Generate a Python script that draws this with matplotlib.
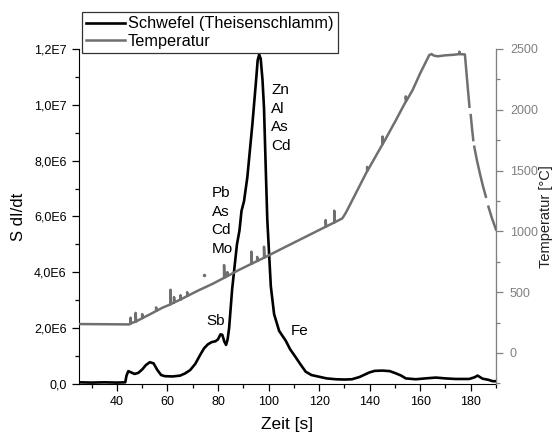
# -*- coding: utf-8 -*-

import numpy as np
import matplotlib
matplotlib.use("Agg")
import matplotlib.pyplot as plt
from matplotlib.ticker import MultipleLocator, FuncFormatter

plt.rcParams['font.family'] = ['Liberation Sans', 'DejaVu Sans']

# Schwefel signal (S dI/dt), values in 1E6
s_zeit = [25, 30, 35, 40, 43.3, 43.8, 44.5, 45.5, 47, 48.5, 50, 51.5, 53, 54.5,
          56, 57.5, 59, 62, 65, 67, 69, 71, 73, 74.5, 76, 77.5, 79, 80, 81,
          81.7, 82.5, 83.2, 83.8, 84.4, 85.6, 87.5, 88.5, 89.3, 90.3, 91.6,
          93.6, 95.0, 95.7, 96.3, 96.9, 97.6, 98.2, 98.9, 99.5, 100.2, 100.9,
          102.2, 104.2, 106.8, 108.5, 110.8, 112.5, 114.7, 117, 120, 123,
          126.6, 130, 133, 136, 139.8, 142, 145.1, 148, 150.4, 152.5, 154.3,
          158.3, 162, 166.2, 170, 174, 179.4, 181.5, 182.7, 184.7, 187, 188.7,
          190]
s_wert = [0.06, 0.05, 0.06, 0.05, 0.06, 0.3, 0.46, 0.42, 0.36, 0.4, 0.52,
          0.68, 0.78, 0.74, 0.5, 0.32, 0.28, 0.27, 0.3, 0.38, 0.5, 0.72, 1.05,
          1.28, 1.42, 1.5, 1.53, 1.6, 1.78, 1.76, 1.52, 1.4, 1.6, 2.0, 3.4,
          5.0, 5.5, 6.2, 6.55, 7.4, 9.3, 10.8, 11.6, 11.8, 11.65, 10.9, 9.9,
          7.7, 5.9, 4.7, 3.5, 2.5, 1.9, 1.55, 1.25, 0.95, 0.72, 0.44, 0.32,
          0.26, 0.2, 0.17, 0.16, 0.17, 0.25, 0.41, 0.47, 0.48, 0.46, 0.38,
          0.3, 0.2, 0.17, 0.2, 0.23, 0.2, 0.18, 0.18, 0.24, 0.3, 0.19, 0.15,
          0.1, 0.1]

# Temperatur [°C], nan = fehlende Messwerte
t_zeit = [25, 44.8, 45.4, 45.4, 45.6, 47.4, 47.4, 47.6, 50, 50, 50.2, 53,
          55.5, 55.5, 55.7, 58, 61.2, 61.2, 61.4, 62.6, 62.6, 62.8, 65.2, 65.2,
          65.4, 67.8, 67.8, 68, 72, 78, 82.4, 82.4, 82.6, 83.7, 83.7, 83.9, 88,
          93.2, 93.2, 93.4, 95.5, 95.5, 95.7, 98.2, 98.2, 98.4, 105, 110, 115,
          120, 122.6, 122.6, 122.8, 126, 126, 126.2, 129.2, 130.5, 132, 137.2,
          139, 139, 139.2, 143.8, 145.1, 145.1, 145.3, 150.4, 154.3, 154.3,
          154.5, 157, 160, 163.6, 164.5, 165.5, 167, 170, 173, 175.5, 175.5,
          175.7, 177.7, 178.5, 179.5, 179.7, 180.0, 180.5, 181.0, 181.2, 181.4,
          182.5, 183.7, 184.8, 186.0, 186.5, 187.0, 188.3, 189.6, 190]
t_wert = [238, 235, 240, 290, 245, 257, 330, 260, 285, 320, 288, 317, 345,
          375, 347, 372, 400, 520, 402, 415, 460, 417, 440, 475, 442, 468,
          500, 470, 512, 570, 618, 723, 620, 632, 665, 634, 680, 733, 833, 735,
          756, 790, 758, 783, 874, 785, 855, 907, 959, 1011, 1038, 1093, 1040,
          1073, 1170, 1075, 1107, 1150, 1210, 1422, 1495, 1530, 1500, 1669,
          1716, 1780, 1722, 1915, 2068, 2110, 2072, 2162, 2300, 2450, 2458,
          2445, 2440, 2448, 2452, 2458, 2478, 2458, 2455, 2260, 2025, np.nan,
          1956, 1850, 1751, np.nan, 1696, 1580, 1470, 1375, 1285, np.nan,
          1203, 1115, 1038, 1015]
t_punkt_zeit = [74.5]
t_punkt_wert = [641]

# Elemente-Beschriftungen (x, y in 1E6)
labels = ["Zn\nAl\nAs\nCd", "Pb\nAs\nCd\nMo", "Sb", "Fe"]
label_x = [101.0, 77.5, 75.2, 108.9]
label_y = [9.53, 5.84, 2.26, 1.9]

grau = '#6f6f6f'
achse_grau = '#808080'

fig = plt.figure(figsize=(5.54, 4.37), dpi=100)
ax = fig.add_axes([0.1426, 0.1213, 0.7527, 0.7666])
ax2 = ax.twinx()

ax.plot(s_zeit, np.array(s_wert) * 1e6, color='black', linewidth=1.9,
        label='Schwefel (Theisenschlamm)', zorder=3)
ax2.plot(t_zeit, t_wert, color=grau, linewidth=1.8, label='Temperatur')
ax2.plot(t_punkt_zeit, t_punkt_wert, '.', color=grau, markersize=3)

ax.set_xlim(25, 190)
ax.set_ylim(0, 1.2e7)
ax2.set_ylim(-255, 2500)

ax.xaxis.set_major_locator(MultipleLocator(20))
ax.xaxis.set_minor_locator(MultipleLocator(10))
ax.yaxis.set_major_locator(MultipleLocator(2e6))
ax.yaxis.set_minor_locator(MultipleLocator(1e6))
ax2.yaxis.set_major_locator(MultipleLocator(500))
ax2.yaxis.set_minor_locator(MultipleLocator(250))


def sci_komma(v, pos):
    if v == 0:
        return "0,0"
    exp = int(np.floor(np.log10(abs(v))))
    return ("%.1fE%d" % (v / 10 ** exp, exp)).replace('.', ',')


ax.yaxis.set_major_formatter(FuncFormatter(sci_komma))

for a in (ax, ax2):
    a.spines['top'].set_visible(False)
    a.tick_params(which='major', direction='out', length=5, width=0.9,
                  labelsize=9, pad=4)
    a.tick_params(which='minor', direction='out', length=3, width=0.9)

ax2.spines['left'].set_visible(False)
ax2.spines['bottom'].set_visible(False)
ax2.spines['right'].set_color(achse_grau)
ax2.tick_params(which='both', colors=achse_grau, labelcolor=achse_grau)
ax2.tick_params(which='major', pad=5)

ax.set_xlabel("Zeit [s]", fontsize=12.5, labelpad=6)
ax.set_ylabel("S dI/dt", fontsize=12, labelpad=6)
ax2.set_ylabel("Temperatur [°C]", fontsize=10.5, labelpad=1,
               color='#222222')

for txt, lx, ly in zip(labels, label_x, label_y):
    ax.text(lx, ly * 1e6, txt, fontsize=11, ha='left', va='center',
            linespacing=1.42)

h1, l1 = ax.get_legend_handles_labels()
h2, l2 = ax2.get_legend_handles_labels()
leg = fig.legend(h1 + h2, l1 + l2, loc='upper left',
                 bbox_to_anchor=(0.1475, 0.972), borderaxespad=0,
                 fontsize=11.7, fancybox=False, framealpha=1,
                 edgecolor='#333333', borderpad=0.25, labelspacing=0.15,
                 handlelength=2.4, handletextpad=0.2)
leg.get_frame().set_linewidth(0.9)

fig.savefig("out.png", dpi=100)
